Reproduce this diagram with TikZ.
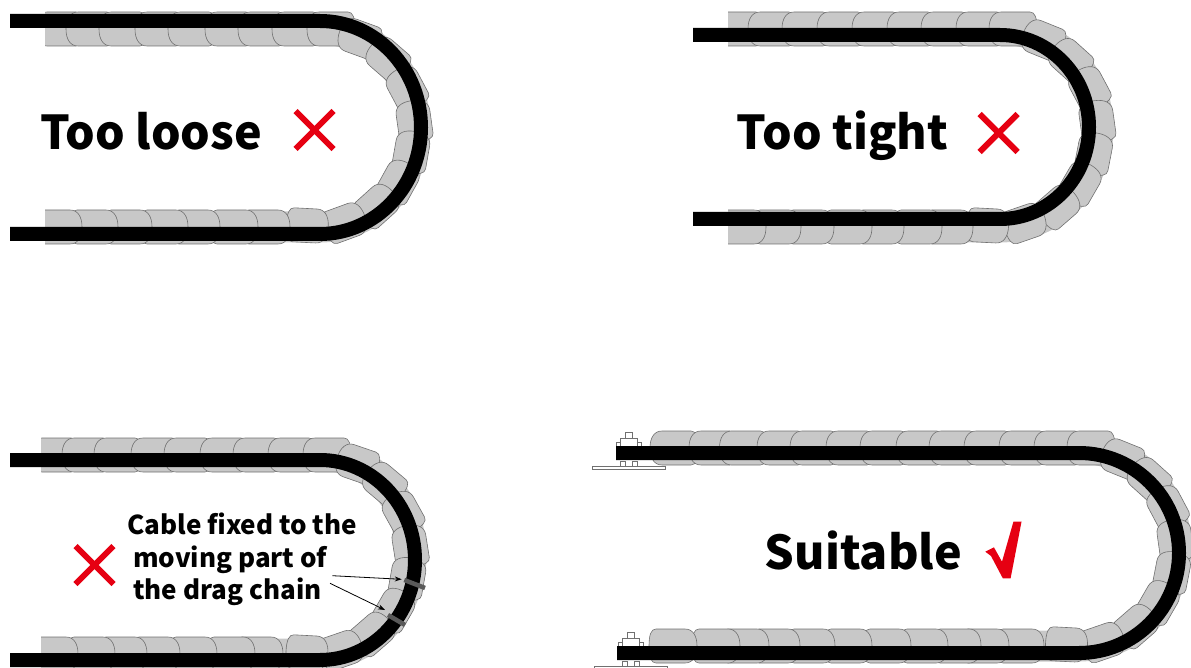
\documentclass[tikz,border=0pt]{standalone}
\usepackage{fontspec}
\setmainfont{Noto Sans CJK SC}
\usepackage{xcolor}
\usetikzlibrary{arrows.meta,calc}
\definecolor{linkgray}{HTML}{C8C8C8}
\definecolor{linkedge}{HTML}{707070}
\definecolor{clampgray}{HTML}{595959}
\definecolor{markred}{HTML}{E60012}
\tikzset{
  x=1pt, y=-1pt,
  cable/.style     = {line width=14pt, black},
  linkshape/.style = {draw=linkedge, line width=0.6pt, fill=linkgray},
  linkband/.style  = {line width=31pt, linkgray},
  bracket/.style   = {draw=linkedge, line width=0.6pt, fill=white},
  title/.style     = {font=\fontsize{46.6}{48}\selectfont\bfseries, inner sep=0pt, anchor=base},
  note/.style      = {font=\fontsize{26}{32.5}\selectfont\bfseries, inner sep=0pt, align=left, anchor=west},
  cross/.style     = {line width=6pt, markred},
  clamp/.style     = {line width=4.5pt, clampgray},
  pointer/.style   = {-{Stealth[length=7pt,width=5pt]}, line width=0.8pt},
  chainlink/.pic   = {
    \path[linkshape] (12,-17) -- (#1-7,-17) .. controls (#1-2,-17) and (#1,-11) .. (#1,0)
      .. controls (#1,11) and (#1-2,17) .. (#1-7,17) -- (12,17)
      .. controls (4,17) and (0,10) .. (0,0) .. controls (0,-10) and (4,-17) .. (12,-17) -- cycle;
  },
}
\newcommand{\dragchain}[8]{%
  \begin{scope}
    \clip (#1,0) rectangle (1191,668);
    \draw[linkband] (#3-50,#2) -- (#3,#2) arc[start angle=-90, end angle=90, x radius=#4, y radius=#5] -- (#3-50,#2+2*#5);
    \foreach \xb in {#6} \pic at (\xb,#2) {chainlink=48};
    \foreach \ang in {#7} \pic[rotate=-\ang-8] at ({#3+#4*sin(\ang)},{#2+#5-#5*cos(\ang)}) {chainlink=42};
    \foreach \xb in {#8} \pic[rotate=180] at (\xb,#2+2*#5) {chainlink=48};
  \end{scope}
}
\newcommand{\redcross}[2]{%
  \draw[cross] (#1-19,#2-19) -- (#1+19,#2+19);
  \draw[cross] (#1+19,#2-19) -- (#1-19,#2+19);
}
\newcommand{\fixbracket}[2]{%
  \begin{scope}[shift={(#1,#2)}]
    \draw[bracket] (592,466) rectangle (665,469.7);
    \draw[bracket] (620,461) rectangle (625,466);
    \draw[bracket] (632,461) rectangle (637,466);
    \draw[bracket] (625,432) rectangle (632,438);
    \draw[bracket] (616,442) rectangle (641,447);
    \draw[bracket] (620,438) rectangle (637,447);
  \end{scope}
}
\begin{document}
\begin{tikzpicture}
  \useasboundingbox (0,0) rectangle (1191,668);

  \dragchain{45}{29}{320}{95}{99}{35,66,99,135,168,205,238,272,307}{12,33,54,74,92,111,130,152,175}{290,258,220,188,152,118,82}
  \draw[cable] (10,21) -- (320,21) arc[start angle=-90, end angle=90, x radius=101, y radius=106.5] -- (10,234);
  \node[title] (loose) at (151,150) {Too loose};
  \redcross{314.5}{130}

  \dragchain{728}{29}{1000}{98}{99}{715,748,782,817,852,887,921,956,989}{14,34,54,74,93,112,131,153,175}{973,942,904,872,834,801,766}
  \draw[cable] (693,35) -- (1000,35) arc[start angle=-90, end angle=90, x radius=89, y radius=92] -- (693,219);
  \node[title] (tight) at (842.5,150) {Too tight};
  \redcross{998.5}{133}

  \dragchain{41}{455}{320}{91}{99.5}{30,62,94,131,164,200,233,268,303}{11,32,53,73,92,112,131,153,175}{283,255,217,180,147,115,78}
  \draw[cable] (10,460) -- (320,460) arc[start angle=-90, end angle=90, x radius=95, y radius=100] -- (10,660);
  \coordinate (clampa) at (404.3,580);
  \coordinate (clampb) at (425,588);
  \coordinate (clampc) at (388,615);
  \coordinate (clampd) at (405,625);
  \draw[clamp] (clampa) -- (clampb);
  \draw[clamp] (clampc) -- (clampd);
  \node[note] (fixed) at (127,559.5) {Cable fixed to the\\\hspace*{6pt}moving part of\\\hspace*{6pt}the drag chain};
  \redcross{94.5}{565}
  \coordinate (tailone) at (332.3,575.7);
  \coordinate (headone) at (401.7,579.3);
  \coordinate (tailtwo) at (330,583.3);
  \coordinate (headtwo) at (385,610);
  \draw[pointer] (tailone) -- (headone);
  \draw[pointer] (tailtwo) -- (headtwo);

  \fixbracket{0}{0}
  \fixbracket{2}{200}
  \dragchain{600}{448}{1079}{97}{99}{650,689,719.5,757,790,826,860,896,929,964,999,1034,1067}{14,34,54,74,93,112,131,153,175}{1044,1009,981,948,911,872,835,800,769,740,697}
  \draw[cable] (616,453) -- (1079,453) arc[start angle=-90, end angle=90, x radius=100, y radius=100] -- (617,653);
  \node[title] (good) at (863.5,569) {Suitable};
  \fill[markred, draw=none] (985.3,551.7) -- (993.9,547.3) -- (1002,561.7) -- (1013.4,521.7) -- (1021.5,521.7) -- (1010.6,578.3) -- (1002.8,578.3) -- (991,556) -- cycle;
\end{tikzpicture}
\end{document}
